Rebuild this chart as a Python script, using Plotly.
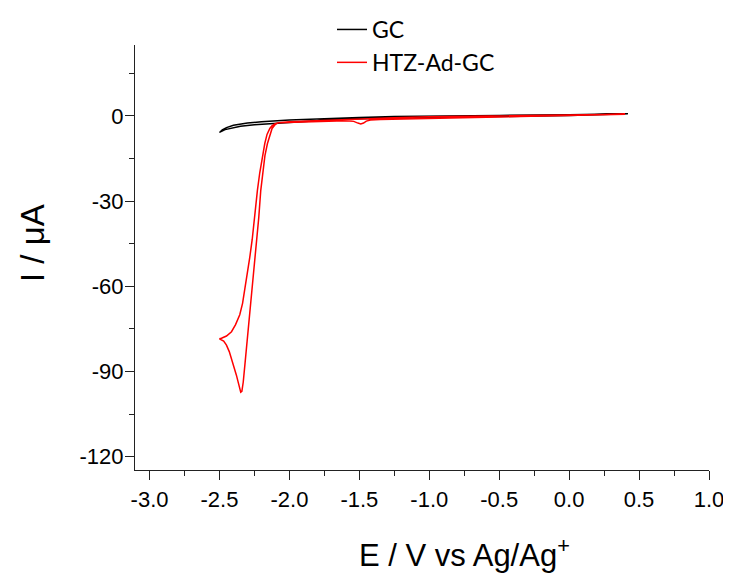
import plotly.graph_objects as go

# GC (bare glassy carbon) - cathodic sweep then return sweep
gc_E = [0.42, 0.3, 0.2, 0.0, -0.25, -0.5, -0.75, -1.0, -1.25, -1.5, -1.75, -2.0, -2.15, -2.25, -2.35, -2.42, -2.46, -2.5,
        -2.48, -2.45, -2.4, -2.3, -2.2, -2.0, -1.75, -1.5, -1.25, -1.0, -0.5, 0.0, 0.2, 0.35, 0.42]
gc_I = [0.8, 0.6, 0.45, 0.2, 0.0, -0.15, -0.3, -0.45, -0.7, -1.0, -1.5, -2.2, -2.7, -3.1, -3.6, -4.2, -4.8, -5.8,
        -4.9, -4.1, -3.3, -2.5, -2.0, -1.4, -0.9, -0.5, -0.2, 0.0, 0.2, 0.4, 0.55, 0.7, 0.8]

# HTZ-Ad-GC - cathodic sweep then return sweep
htz_E = [0.4, 0.2, 0.0, -0.25, -0.5, -0.75, -1.0, -1.2, -1.35, -1.42, -1.45, -1.47, -1.49, -1.51, -1.54, -1.6, -1.8,
         -2.0, -2.08, -2.105, -2.125, -2.14, -2.16, -2.176, -2.195, -2.212, -2.229, -2.248, -2.266, -2.284, -2.3,
         -2.319, -2.335, -2.355, -2.385, -2.414, -2.45, -2.486, -2.5,
         -2.47, -2.45, -2.43, -2.414, -2.395, -2.379, -2.365, -2.355, -2.348, -2.34, -2.33, -2.318, -2.307, -2.295,
         -2.284, -2.267, -2.255, -2.243, -2.231, -2.219, -2.205, -2.19, -2.175, -2.157, -2.14, -2.124, -2.1, -2.08,
         -2.0, -1.8, -1.5, -1.25, -1.0, -0.5, 0.0, 0.2, 0.4]
htz_I = [0.6, 0.4, 0.1, -0.1, -0.3, -0.5, -0.7, -0.9, -1.2, -1.4, -1.8, -2.5, -2.8, -2.5, -1.9, -1.7, -1.9,
         -2.2, -2.4, -2.8, -3.5, -4.4, -6.5, -9.7, -15, -20, -26.3, -35.7, -43.5, -50, -55.5,
         -61.8, -66, -70, -73.5, -76, -77.5, -78.3, -78.5,
         -79.3, -80.7, -83, -85.4, -88.5, -91.3, -94, -96.2, -97.3, -97, -93.7, -87.5, -81.9, -75.5,
         -70, -61.8, -56, -50, -43, -35.7, -26.3, -20, -14, -9.7, -6.5, -4.4, -2.9, -2.4,
         -2.0, -1.6, -1.0, -0.6, -0.3, 0.0, 0.3, 0.5, 0.6]

x_ticks = [-3.0, -2.5, -2.0, -1.5, -1.0, -0.5, 0.0, 0.5, 1.0]
x_ticklabels = ["-3.0", "-2.5", "-2.0", "-1.5", "-1.0", "-0.5", "0.0", "0.5", "1.0"]
y_ticks = [-120, -90, -60, -30, 0]
y_ticklabels = ["-120", "-90", "-60", "-30", "0"]

fig = go.Figure()
fig.add_trace(go.Scatter(x=gc_E, y=gc_I, mode="lines", name="GC",
                         line=dict(color="#000000", width=1.5)))
fig.add_trace(go.Scatter(x=htz_E, y=htz_I, mode="lines", name="HTZ-Ad-GC",
                         line=dict(color="#ff0000", width=1.5)))

axis_font = dict(family="Liberation Sans, Arial, sans-serif", size=22, color="#000000")

# page body adds an 8px offset at top/left, so the figure is 8px smaller
W, H = 723, 566
ML, MR, MT, MB = 127, 22, 37, 104
PW = W - ML - MR   # plot width
PH = H - MT - MB   # plot height

fig.update_layout(
    width=W, height=H,
    margin=dict(l=ML, r=MR, t=MT, b=MB, autoexpand=False),
    paper_bgcolor="white", plot_bgcolor="white",
    showlegend=True,
    legend=dict(x=(372 - 8 - 40 - ML) / PW, y=1 + (MT - 0) / PH, xanchor="left", yanchor="top",
                font=dict(family="Lato, sans-serif", size=23, color="#000000"),
                bgcolor="rgba(0,0,0,0)", tracegroupgap=0),
    xaxis=dict(range=[-3.104, 1.0], tickmode="array", tickvals=x_ticks, ticktext=x_ticklabels,
               showline=True, linecolor="#222222", linewidth=1.3,
               ticks="outside", ticklen=9, tickwidth=1.3, tickcolor="#222222",
               minor=dict(dtick=0.25, tick0=0, ticks="outside", ticklen=5, tickwidth=1.3, tickcolor="#222222"),
               showgrid=False, zeroline=False, tickfont=axis_font),
    yaxis=dict(range=[-124.7, 25.0], tickmode="array", tickvals=y_ticks, ticktext=y_ticklabels,
               showline=True, linecolor="#222222", linewidth=1.3,
               ticks="outside", ticklen=9, tickwidth=1.3, tickcolor="#222222",
               minor=dict(dtick=15, tick0=0, ticks="outside", ticklen=5, tickwidth=1.3, tickcolor="#222222"),
               showgrid=False, zeroline=False, tickfont=axis_font, ticklabelstandoff=-3),
    annotations=[
        dict(text="E / V vs Ag/Ag<sup>+</sup>", xref="paper", yref="paper",
             x=(464 - 8 - ML) / PW, y=(470 - 553) / PH, xanchor="center", yanchor="middle",
             showarrow=False, font=dict(family="Liberation Sans, Arial, sans-serif", size=31, color="#000000")),
        dict(text="I / μA", xref="paper", yref="paper", textangle=-90,
             x=(32 - 8 - ML) / PW, y=(470 - 243) / PH, xanchor="center", yanchor="middle",
             showarrow=False, font=dict(family="Liberation Sans, Arial, sans-serif", size=33, color="#000000")),
    ],
)

fig.write_html("out.html")
